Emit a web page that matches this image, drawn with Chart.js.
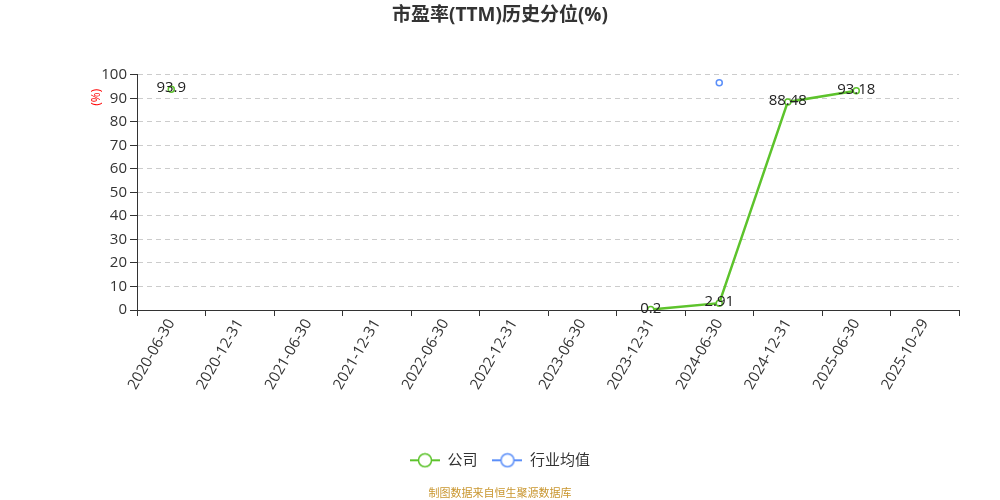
<!DOCTYPE html>
<html>
<head>
<meta charset="utf-8">
<script src="https://cdn.jsdelivr.net/npm/chart.js@4/dist/chart.umd.min.js"></script>
<style>
  body { margin: 0; background: #fff; }
  #wrap { width: 1000px; height: 500px; }
</style>
</head>
<body>
<div id="wrap"><canvas id="pe_chart" width="1000" height="500"></canvas></div>
<script>
// categories and values
var dates = ['2020-06-30', '2020-12-31', '2021-06-30', '2021-12-31', '2022-06-30', '2022-12-31',
	'2023-06-30', '2023-12-31', '2024-06-30', '2024-12-31', '2025-06-30', '2025-10-29'];
var company = [93.9, null, null, null, null, null, null, 0.2, 2.91, 88.48, 93.18, null];
var industry = [null, null, null, null, null, null, null, null, 96.6, null, null, null];
var yTicks = [0, 10, 20, 30, 40, 50, 60, 70, 80, 90, 100];

var green = '#5dc32c';
var blue = '#5b8ff9';
var fontFamily = '"Open Sans", "Noto Sans CJK SC", sans-serif';

// legend icon: short line with a hollow circle
function makeIcon(color) {
	var c = document.createElement('canvas');
	c.width = 30;
	c.height = 16;
	var ctx = c.getContext('2d');
	ctx.strokeStyle = color;
	ctx.lineWidth = 2;
	ctx.beginPath();
	ctx.moveTo(0, 8);
	ctx.lineTo(30, 8);
	ctx.stroke();
	ctx.beginPath();
	ctx.arc(15, 8, 6.5, 0, Math.PI * 2);
	ctx.fillStyle = '#fff';
	ctx.fill();
	ctx.lineWidth = 1.5;
	ctx.stroke();
	return c;
}
var icons = [makeIcon(green), makeIcon(blue)];

// value labels on the company line + small "(%)" unit near the top of the y axis
var extraText = {
	id: 'extraText',
	afterDatasetsDraw: function(chart) {
		var ctx = chart.ctx;
		var meta = chart.getDatasetMeta(0);
		ctx.save();
		ctx.font = '15px ' + fontFamily;
		ctx.fillStyle = '#222';
		ctx.textAlign = 'center';
		ctx.textBaseline = 'middle';
		meta.data.forEach(function(pt, i) {
			var v = company[i];
			if (v === null) return;
			ctx.fillText(String(v), pt.x, pt.y - 1);
		});
		ctx.restore();

		var ys = chart.scales.y;
		ctx.save();
		ctx.translate(ys.left + 56, ys.getPixelForValue(90) - 1);
		ctx.rotate(-Math.PI / 2);
		ctx.font = '12px ' + fontFamily;
		ctx.fillStyle = '#f00';
		ctx.textAlign = 'center';
		ctx.textBaseline = 'middle';
		ctx.fillText('(%)', 0, 0);
		ctx.restore();
	}
};

var chart = new Chart(document.getElementById('pe_chart'), {
	type: 'line',
	data: {
		labels: dates,
		datasets: [
			{
				label: '公司',
				data: company,
				borderColor: green,
				backgroundColor: '#fff',
				borderWidth: 2.5,
				pointRadius: 3,
				pointBorderWidth: 1.5,
				pointBackgroundColor: '#fff',
				pointBorderColor: green,
				spanGaps: false,
				tension: 0
			},
			{
				label: '行业均值',
				data: industry,
				borderColor: blue,
				backgroundColor: '#fff',
				borderWidth: 2,
				pointRadius: 3,
				pointBorderWidth: 1.5,
				pointBackgroundColor: '#fff',
				pointBorderColor: blue,
				spanGaps: false
			}
		]
	},
	options: {
		responsive: false,
		animation: false,
		layout: { padding: { left: 41, right: 41, top: 4, bottom: 0 } },
		plugins: {
			title: {
				display: true,
				text: '市盈率(TTM)历史分位(%)',
				color: '#333',
				font: { family: fontFamily, size: 19, weight: 'bold' },
				padding: { top: 0, bottom: 48 }
			},
			subtitle: {
				display: true,
				position: 'bottom',
				text: '制图数据来自恒生聚源数据库',
				color: '#c9962f',
				font: { family: fontFamily, size: 11 },
				padding: { top: 9, bottom: 0 }
			},
			legend: {
				position: 'bottom',
				labels: {
					usePointStyle: true,
					pointStyleWidth: 30,
					color: '#333',
					font: { family: fontFamily, size: 15 },
					padding: 15,
					generateLabels: function(chart) {
						var items = Chart.defaults.plugins.legend.labels.generateLabels(chart);
						items.forEach(function(item, i) { item.pointStyle = icons[i]; });
						return items;
					}
				}
			},
			tooltip: { enabled: false }
		},
		scales: {
			x: {
				offset: true,
				grid: {
					offset: true,
					drawOnChartArea: false,
					tickLength: 6,
					tickColor: '#333'
				},
				border: { color: '#333', width: 1 },
				ticks: {
					color: '#333',
					font: { family: fontFamily, size: 15 },
					minRotation: 60,
					maxRotation: 60,
					autoSkip: false,
					padding: 0
				},
				afterFit: function(scale) { scale.height += 45; }
			},
			y: {
				min: 0,
				max: 100,
				afterBuildTicks: function(scale) {
					scale.ticks = yTicks.map(function(v) { return { value: v }; });
				},
				grid: {
					color: '#ccc',
					tickColor: '#333',
					tickLength: 7,
					tickBorderDash: []
				},
				border: { color: '#333', width: 1, dash: [5, 4] },
				ticks: {
					color: '#333',
					font: { family: fontFamily, size: 15 },
					padding: 3
				},
				afterFit: function(scale) { scale.width = 96; }
			}
		}
	},
	plugins: [extraText]
});
</script>
</body>
</html>
